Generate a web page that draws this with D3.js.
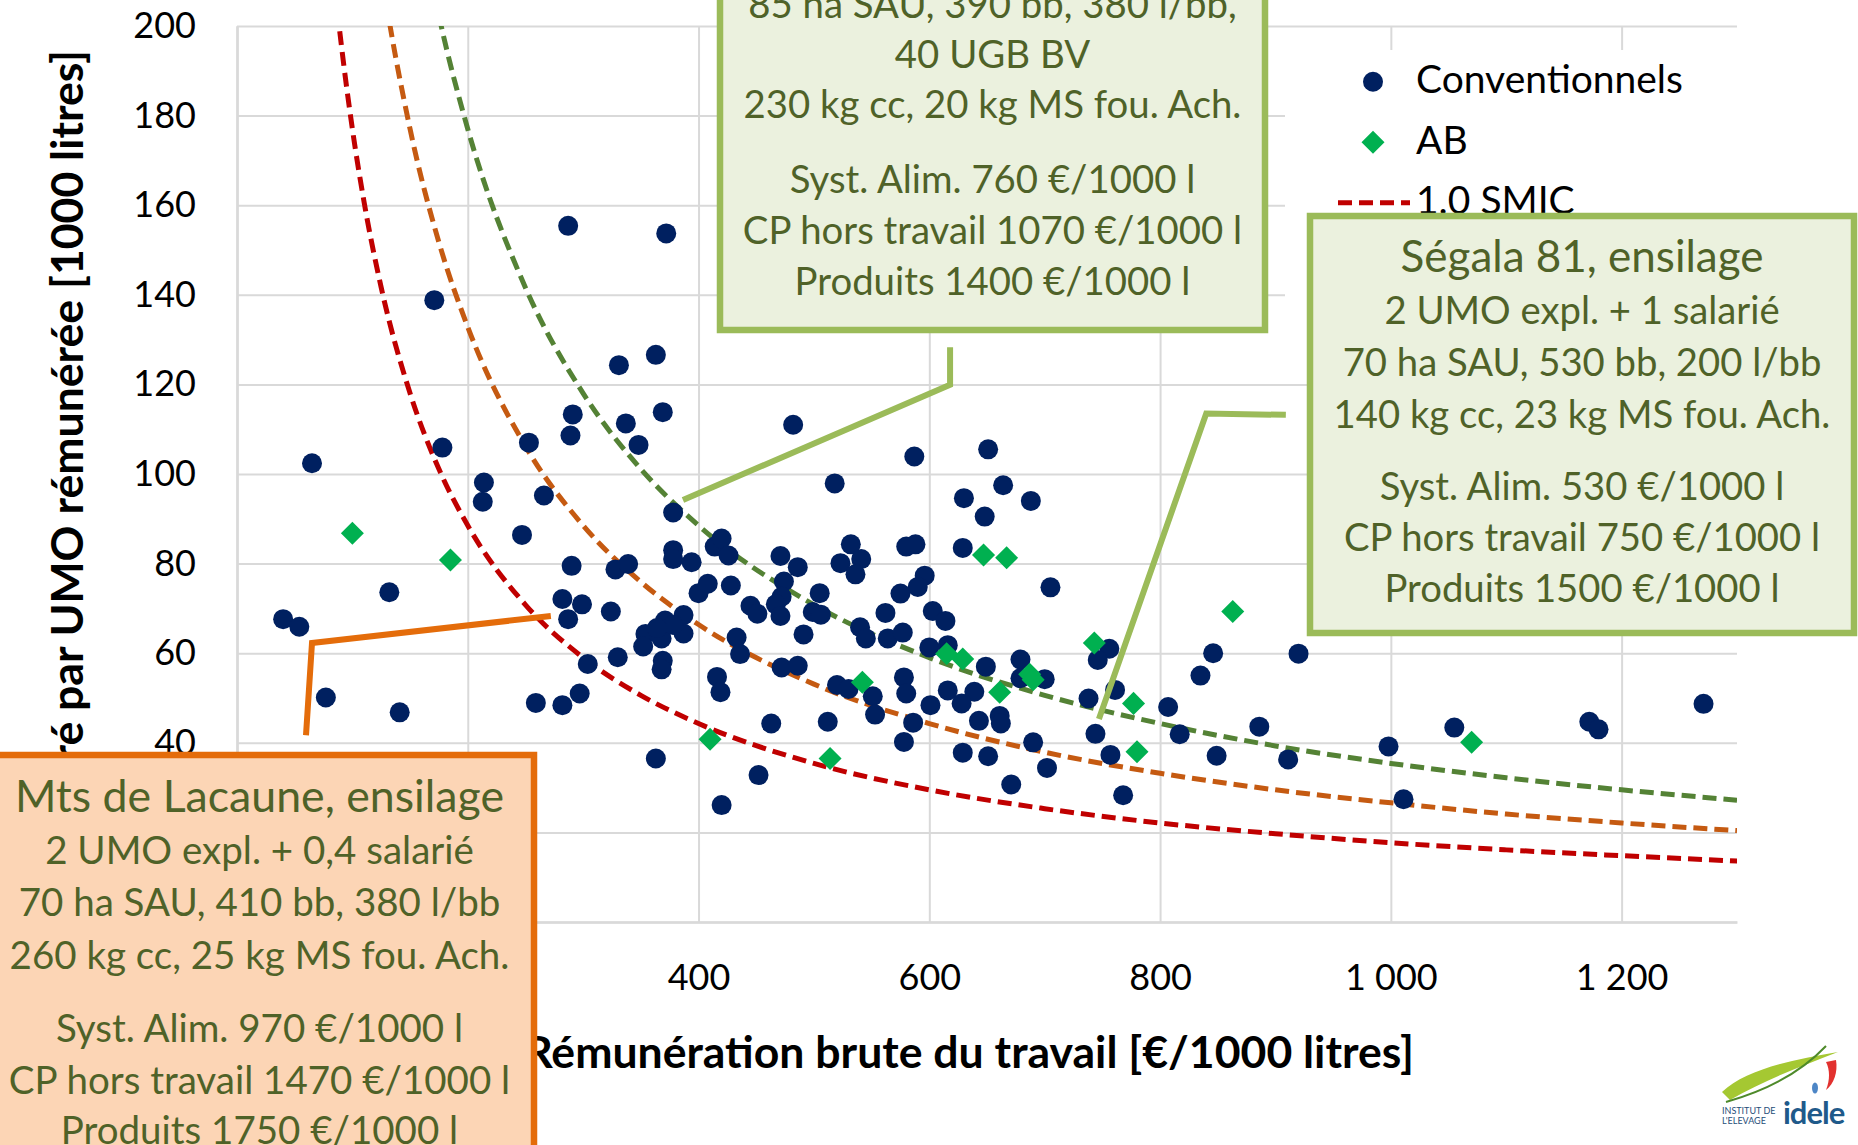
<!DOCTYPE html>
<html>
<head>
<meta charset="utf-8">
<script src="https://cdn.jsdelivr.net/npm/d3@7"></script>
<style>
  body { margin: 0; background: #fff; }
  svg { display: block; }
</style>
</head>
<body>
<svg></svg>
<script>
// values
var conventionnels = [
  [287,155.4],[372,153.7],[171,138.8],[331,124.3],[363,126.6],[291,113.3],[289,108.6],[337,111.3],
  [369,113.8],[348,106.5],[253,107.0],[178,105.9],[65,102.4],[214,98.1],[213,93.8],[266,95.2],
  [378,91.4],[247,86.4],
  [290,79.5],[328,78.7],[339,79.9],[378,83.0],[378,81.0],[394,80.3],[414,83.8],[132,73.6],
  [40,67.6],[54,65.9],[282,72.1],[299,70.9],[287,67.6],[324,69.3],[400,73.4],[408,75.5],
  [371,67.3],[354,64.3],[368,63.3],[387,68.5],[387,64.4],[378,66.3],[364,65.6],[352,61.5],
  [304,57.6],[330,59.1],[369,58.3],[368,56.4],[416,54.7],[419,51.3],[77,50.1],[141,46.8],
  [259,48.9],[282,48.4],[297,51.0],[363,36.5],[420,26.1],
  [482,111.0],[587,103.9],[518,97.9],[651,105.5],[630,94.6],[664,97.5],[648,90.5],[688,94.0],
  [629,83.5],[705,74.7],[420,85.6],[426,81.8],[471,81.7],[486,79.2],[532,84.3],[523,80.1],
  [541,81.0],[536,77.6],[580,83.8],[588,84.3],[596,77.3],[590,74.8],[575,73.3],[428,75.1],
  [474,76.0],[472,72.6],[467,70.9],[445,70.6],[451,68.8],[471,68.3],[505,73.4],[499,69.2],
  [506,68.6],[562,69.0],[603,69.4],[614,67.2],[491,64.2],[433,63.5],[436,59.8],[540,65.8],
  [545,63.3],[564,63.3],[577,64.6],[600,61.3],[616,61.8],[649,57.0],[679,58.6],[679,54.4],
  [700,54.2],[756,61.0],[746,58.5],[738,49.9],[761,51.8],[744,42.0],[757,37.3],[807,48.0],
  [472,56.8],[486,57.2],[520,52.9],[530,52.0],[551,50.4],[553,46.3],[578,54.6],[580,51.0],
  [586,44.5],[578,40.2],[601,48.4],[616,51.7],[639,51.4],[628,48.8],[643,44.9],[661,46.0],
  [662,44.3],[690,40.1],[629,37.8],[651,37.0],[463,44.3],[512,44.7],[702,34.4],[671,30.7],
  [768,28.3],[452,32.8],
  [846,60.0],[835,55.0],[920,59.9],[817,41.9],[849,37.1],[886,43.6],[911,36.3],[998,39.2],
  [1011,27.4],[1055,43.4],[1172,44.7],[1180,43.0],[1271,48.7]
];

var agriBio = [
  [100,86.8],[185,80.8],[410,40.8],[514,36.5],[542,53.5],[615,59.9],[629,58.7],[647,81.9],
  [667,81.3],[661,51.3],[687,55.3],[690,54.1],[743,62.3],[777,48.8],[780,38.0],[863,69.3],
  [1070,40.1]
];

// iso-revenue curves (1000 l / UMO) at each x (EUR / 1000 l)
var smicX   = [85, 90, 100, 110, 125, 150, 175, 200, 250, 300, 350, 400, 500, 600, 700, 800, 900, 1000, 1100, 1200, 1300];
var smic10  = [208.2, 196.7, 177.0, 160.9, 141.6, 118.0, 101.1, 88.5, 70.8, 59.0, 50.6, 44.3, 35.4, 29.5, 25.3, 22.1, 19.7, 17.7, 16.1, 14.8, 13.6];
var smic15  = [312.4, 295.0, 265.5, 241.4, 212.4, 177.0, 151.7, 132.8, 106.2, 88.5, 75.9, 66.4, 53.1, 44.3, 37.9, 33.2, 29.5, 26.6, 24.1, 22.1, 20.4];
var smic20  = [416.5, 393.3, 354.0, 321.8, 283.2, 236.0, 202.3, 177.0, 141.6, 118.0, 101.1, 88.5, 70.8, 59.0, 50.6, 44.3, 39.3, 35.4, 32.2, 29.5, 27.2];

var xTicks = [0, 200, 400, 600, 800, 1000, 1200];
var xTickLabels = ["0", "200", "400", "600", "800", "1 000", "1 200"];
var yTicks = [0, 20, 40, 60, 80, 100, 120, 140, 160, 180, 200];

var legendLabels = ["Conventionnels", "AB", "1.0 SMIC", "1.5 SMIC", "2.0 SMIC"];

var boxTopLines = ["85 ha SAU, 390 bb, 380 l/bb,", "40 UGB BV", "230 kg cc, 20 kg MS fou. Ach.",
  "Syst. Alim. 760 €/1000 l", "CP hors travail 1070 €/1000 l", "Produits 1400 €/1000 l"];
var boxSegalaLines = ["Ségala 81, ensilage", "2 UMO expl. + 1 salarié", "70 ha SAU, 530 bb, 200 l/bb",
  "140 kg cc, 23 kg MS fou. Ach.", "Syst. Alim. 530 €/1000 l", "CP hors travail 750 €/1000 l", "Produits 1500 €/1000 l"];
var boxLacauneLines = ["Mts de Lacaune, ensilage", "2 UMO expl. + 0,4 salarié", "70 ha SAU, 410 bb, 380 l/bb",
  "260 kg cc, 25 kg MS fou. Ach.", "Syst. Alim. 970 €/1000 l", "CP hors travail 1470 €/1000 l", "Produits 1750 €/1000 l"];

// leader lines, in data coordinates
var leaderTop = [[618, 128.3], [618, 119.9], [386.5, 94.2]];
var leaderSegala = [[909, 113.2], [840, 113.5], [747, 45.3]];
var leaderLacaune = [[59.8, 41.7], [65, 62.3], [272, 68.3]];

var font = "Lato, 'Open Sans', sans-serif";
var width = 1858, height = 1145;
var plot = { left: 237, right: 1737, top: 26, bottom: 922 };

var x = d3.scaleLinear().domain([0, 1300]).range([plot.left, plot.right]);
var y = d3.scaleLinear().domain([0, 200]).range([plot.bottom, plot.top]);

var svg = d3.select("svg")
    .attr("width", width)
    .attr("height", height)
    .style("font-family", font);

function fitSize(str, target, weight) {
  var t = svg.append("text")
      .attr("font-size", 100)
      .attr("font-weight", weight || 400)
      .text(str);
  var w = t.node().getComputedTextLength();
  t.remove();
  return 100 * target / w;
}

// gridlines and tick labels
var gx = svg.append("g")
    .attr("transform", "translate(0," + plot.bottom + ")")
    .call(d3.axisBottom(x)
      .tickValues(xTicks)
      .tickSize(-(plot.bottom - plot.top))
      .tickSizeOuter(0)
      .tickPadding(42)
      .tickFormat(function(d, i) { return xTickLabels[i]; }));

var gy = svg.append("g")
    .attr("transform", "translate(" + plot.left + ",0)")
    .call(d3.axisLeft(y)
      .tickValues(yTicks)
      .tickSize(-(plot.right - plot.left))
      .tickSizeOuter(0)
      .tickPadding(41));

[gx, gy].forEach(function(g) {
  g.selectAll(".tick line").attr("stroke", "#d9d9d9").attr("stroke-width", 2);
  g.select(".domain").attr("stroke", "#d9d9d9").attr("stroke-width", 2.5);
  g.selectAll("text")
    .attr("font-size", 36)
    .attr("font-family", font)
    .attr("fill", "#000");
});

// axis titles
var titleSize = fitSize("Rémunération brute du travail [€/1000 litres]", 890, 700);
svg.append("text")
    .attr("x", 1414)
    .attr("y", 1068)
    .attr("text-anchor", "end")
    .attr("font-weight", 700)
    .attr("font-size", titleSize)
    .text("Rémunération brute du travail [€/1000 litres]");

svg.append("text")
    .attr("transform", "translate(83,50) rotate(-90)")
    .attr("text-anchor", "end")
    .attr("font-weight", 700)
    .attr("font-size", titleSize)
    .text("Lait livré par UMO rémunérée [1000 litres]");

// SMIC curves
svg.append("clipPath")
    .attr("id", "plotClip")
  .append("rect")
    .attr("x", plot.left)
    .attr("y", plot.top)
    .attr("width", plot.right - plot.left)
    .attr("height", plot.bottom - plot.top);

var smicSeries = [
  { values: smic10, color: "#c00000" },
  { values: smic15, color: "#c55a11" },
  { values: smic20, color: "#548235" }
];

var line = d3.line()
    .x(function(d) { return x(d[0]); })
    .y(function(d) { return y(d[1]); })
    .curve(d3.curveMonotoneX);

smicSeries.forEach(function(s) {
  svg.append("path")
      .datum(d3.zip(smicX, s.values))
      .attr("clip-path", "url(#plotClip)")
      .attr("fill", "none")
      .attr("stroke", s.color)
      .attr("stroke-width", 5)
      .attr("stroke-dasharray", "14,7")
      .attr("d", line);
});

// points
svg.append("g")
  .selectAll("circle")
  .data(conventionnels)
  .enter().append("circle")
    .attr("cx", function(d) { return x(d[0]); })
    .attr("cy", function(d) { return y(d[1]); })
    .attr("r", 10)
    .attr("fill", "#002060");

var diamond = d3.symbol().type(d3.symbolSquare).size(265);
svg.append("g")
  .selectAll("path")
  .data(agriBio)
  .enter().append("path")
    .attr("d", diamond)
    .attr("transform", function(d) { return "translate(" + x(d[0]) + "," + y(d[1]) + ") rotate(45)"; })
    .attr("fill", "#00b050");

// legend
var legend = svg.append("g");
legend.append("rect")
    .attr("x", 1285)
    .attr("y", 50)
    .attr("width", plot.right - 1285)
    .attr("height", 320)
    .attr("fill", "#fff");

var legendSize = fitSize("Conventionnels", 267);
legendLabels.forEach(function(label, i) {
  var cy = 81.7 + i * 60.5;
  if (i === 0) {
    legend.append("circle").attr("cx", 1373).attr("cy", cy).attr("r", 10).attr("fill", "#002060");
  } else if (i === 1) {
    legend.append("path").attr("d", diamond)
        .attr("transform", "translate(1373," + cy + ") rotate(45)")
        .attr("fill", "#00b050");
  } else {
    legend.append("line")
        .attr("x1", 1338).attr("x2", 1410)
        .attr("y1", cy).attr("y2", cy)
        .attr("stroke", smicSeries[i - 2].color)
        .attr("stroke-width", 5)
        .attr("stroke-dasharray", "14,7");
  }
  legend.append("text")
      .attr("x", 1416)
      .attr("y", cy + 11.5)
      .attr("font-size", legendSize)
      .attr("fill", "#000")
      .text(label);
});

// leader lines
var leader = d3.line()
    .x(function(d) { return x(d[0]); })
    .y(function(d) { return y(d[1]); });

[[leaderTop, "#9bbb59"], [leaderSegala, "#9bbb59"], [leaderLacaune, "#e46c0a"]].forEach(function(l) {
  svg.append("path")
      .datum(l[0])
      .attr("fill", "none")
      .attr("stroke", l[1])
      .attr("stroke-width", 6)
      .attr("d", leader);
});

// annotation boxes
function drawBox(cfg) {
  var g = svg.append("g");
  g.append("rect")
      .attr("x", cfg.x).attr("y", cfg.y)
      .attr("width", cfg.w).attr("height", cfg.h)
      .attr("fill", cfg.fill)
      .attr("stroke", cfg.stroke)
      .attr("stroke-width", 6.5);
  var bodySize = fitSize(cfg.fitLine, cfg.fitWidth);
  var headSize = cfg.titleWidth ? fitSize(cfg.lines[0], cfg.titleWidth) : bodySize;
  g.selectAll("text")
    .data(cfg.lines)
    .enter().append("text")
      .attr("x", cfg.x + cfg.w / 2)
      .attr("y", function(d, i) { return cfg.baselines[i]; })
      .attr("text-anchor", "middle")
      .attr("font-size", function(d, i) { return (cfg.titleWidth && i === 0) ? headSize : bodySize; })
      .attr("fill", "#4f6228")
      .text(function(d) { return d; });
}

drawBox({
  x: 720, y: -100, w: 545, h: 430,
  fill: "#ebf1de", stroke: "#9bbb59",
  lines: boxTopLines,
  baselines: [18, 68, 118, 193, 244, 295],
  fitLine: boxTopLines[2], fitWidth: 498
});

drawBox({
  x: 1310, y: 216, w: 544, h: 417,
  fill: "#ebf1de", stroke: "#9bbb59",
  lines: boxSegalaLines,
  baselines: [272, 324, 376, 428, 500, 551, 602],
  fitLine: boxSegalaLines[3], fitWidth: 497,
  titleWidth: 363
});

drawBox({
  x: -15, y: 755, w: 549, h: 500,
  fill: "#fcd5b5", stroke: "#e46c0a",
  lines: boxLacauneLines,
  baselines: [812, 864, 916, 969, 1042, 1094, 1144],
  fitLine: boxLacauneLines[3], fitWidth: 500,
  titleWidth: 489
});

// logo, bottom right
var logo = svg.append("g");
logo.append("path")
    .attr("d", "M1722,1092 C1745,1070 1790,1060 1838,1052 C1802,1066 1764,1080 1730,1100 Z")
    .attr("fill", "#a5c832");
logo.append("path")
    .attr("d", "M1726,1102 Q1790,1084 1826,1046")
    .attr("fill", "none")
    .attr("stroke", "#4e8a2a")
    .attr("stroke-width", 2);
logo.append("path")
    .attr("d", "M1826,1062 L1836,1060 C1838,1072 1834,1084 1826,1090 C1830,1080 1830,1070 1826,1062 Z")
    .attr("fill", "#e2312f");
logo.append("ellipse")
    .attr("cx", 1815).attr("cy", 1088)
    .attr("rx", 3).attr("ry", 5.5)
    .attr("fill", "#4d86c6");
logo.append("text")
    .attr("x", 1722).attr("y", 1114)
    .attr("font-size", 9).attr("fill", "#1f4e79")
    .text("INSTITUT DE");
logo.append("text")
    .attr("x", 1722).attr("y", 1124)
    .attr("font-size", 9).attr("fill", "#1f4e79")
    .text("L'ELEVAGE");
logo.append("text")
    .attr("x", 1783).attr("y", 1124)
    .attr("font-size", 31).attr("font-weight", 700)
    .attr("letter-spacing", -1)
    .attr("fill", "#1f5a8a")
    .text("idele");
</script>
</body>
</html>
